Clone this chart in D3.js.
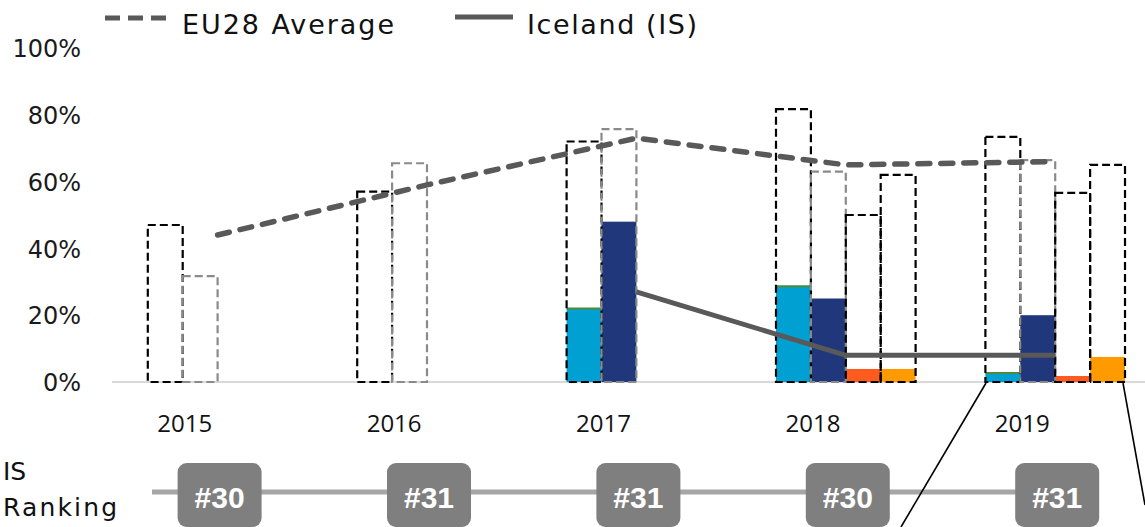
<!DOCTYPE html>
<html><head><meta charset="utf-8">
<script src="https://cdn.jsdelivr.net/npm/d3@7"></script>
<style>body{margin:0;background:#fff;} svg{display:block;}</style>
</head><body>
<svg id="chart" width="1145" height="527"></svg>
<script>
// ---- data ----
const years = ["2015","2016","2017","2018","2019"];
const cyanVals   = [null, null, 22.0, 28.7, 2.7];
const navyVals   = [null, null, 48.0, 25.0, 20.0];
const redVals    = [null, null, null, 3.9, 1.8];
const orangeVals = [null, null, null, 3.9, 7.5];
const bench1 = [47.0, 57.0, 72.0, 81.7, 73.4];   // black dashed
const bench2 = [31.7, 65.5, 75.7, 63.0, 66.4];   // grey dashed
const bench3 = [null, null, null, 50.0, 56.6];   // black dashed
const bench4 = [null, null, null, 62.0, 65.0];   // black dashed
const eu28    = [44.0, 59.0, 73.0, 65.0, 66.0];
const iceland = [null, null, 27.0, 8.0, 8.0];
const rankings = ["#30","#31","#31","#30","#31"];
const yTicks = [0,20,40,60,80,100];

// ---- layout ----
const svg = d3.select("#chart");
const x = d3.scaleBand().domain(years).range([78,1125]);
const slot = d3.scaleBand().domain(d3.range(6)).range([0, x.bandwidth()]);
const y = d3.scaleLinear().domain([0,100]).range([382,48]);
const fontMain = "'DejaVu Sans', sans-serif";

// y axis labels
const ya = svg.append("g").attr("transform","translate(81,0)")
  .call(d3.axisLeft(y).tickValues(yTicks).tickFormat(d=>d+"%").tickSize(0).tickPadding(0));
ya.select(".domain").remove();
ya.selectAll("text").attr("font-family",fontMain).attr("font-size",24)
  .attr("fill","#1a1a1a").attr("dy","0.36em");

// baseline
svg.append("line").attr("x1",112).attr("x2",1145).attr("y1",y(0)).attr("y2",y(0))
  .attr("stroke","#d9d9d9").attr("stroke-width",2);

// x axis labels
const xa = svg.append("g").attr("transform",`translate(0,${y(0)})`)
  .call(d3.axisBottom(x).tickSize(0).tickPadding(0));
xa.select(".domain").remove();
xa.selectAll("text").attr("font-family","'Open Sans', sans-serif").attr("font-size",24)
  .attr("fill","#111").attr("y",50).attr("dy",0).attr("dx",2);

// filled bars
const filled = [
  {vals:cyanVals, slot:2, color:"#00a0d2", top:"#4e8a3a"},
  {vals:navyVals, slot:3, color:"#21377b"},
  {vals:redVals, slot:4, color:"#ff5b1f"},
  {vals:orangeVals, slot:5, color:"#ff9a00"}
];
filled.forEach(s=>{
  const data = years.map((yr,i)=>({yr, v:s.vals[i]})).filter(d=>d.v!=null);
  svg.append("g").selectAll("rect").data(data).join("rect")
    .attr("x",d=>x(d.yr)+slot(s.slot)).attr("width",slot.bandwidth())
    .attr("y",d=>y(d.v)).attr("height",d=>y(0)-y(d.v)).attr("fill",s.color);
  if(s.top){
    svg.append("g").selectAll("line").data(data).join("line")
      .attr("x1",d=>x(d.yr)+slot(s.slot)).attr("x2",d=>x(d.yr)+slot(s.slot)+slot.bandwidth())
      .attr("y1",d=>y(d.v)).attr("y2",d=>y(d.v)).attr("stroke",s.top).attr("stroke-width",2);
  }
});

// dashed benchmark outlines
const outlines = [
  {vals:bench1, slot:2, color:"#000"},
  {vals:bench2, slot:3, color:"#8a8a8a"},
  {vals:bench3, slot:4, color:"#000"},
  {vals:bench4, slot:5, color:"#000"}
];
outlines.forEach(s=>{
  const data = years.map((yr,i)=>({yr, v:s.vals[i]})).filter(d=>d.v!=null);
  svg.append("g").selectAll("rect").data(data).join("rect")
    .attr("x",d=>x(d.yr)+slot(s.slot)).attr("width",slot.bandwidth())
    .attr("y",d=>y(d.v)).attr("height",d=>y(0)-y(d.v))
    .attr("fill","none").attr("stroke",s.color).attr("stroke-width",2.2)
    .attr("stroke-dasharray","8,4");
});

// lines
const lx = (yr)=> x(yr)+slot(4);
const lineGen = d3.line().defined(d=>d.v!=null).x(d=>lx(d.yr)).y(d=>y(d.v));
svg.append("path").datum(years.map((yr,i)=>({yr,v:iceland[i]})))
  .attr("d",lineGen).attr("fill","none").attr("stroke","#595959").attr("stroke-width",5);
svg.append("path").datum(years.map((yr,i)=>({yr,v:eu28[i]})))
  .attr("d",lineGen).attr("fill","none").attr("stroke","#595959").attr("stroke-width",5.5)
  .attr("stroke-dasharray","12,11").attr("stroke-linecap","round");

// legend
svg.append("line").attr("x1",105).attr("x2",166).attr("y1",18).attr("y2",18)
  .attr("stroke","#595959").attr("stroke-width",5).attr("stroke-dasharray","15,8");
svg.append("text").attr("x",182).attr("y",34).text("EU28 Average")
  .attr("font-family",fontMain).attr("font-size",27).attr("fill","#111")
  .attr("textLength",212).attr("lengthAdjust","spacing");
svg.append("line").attr("x1",455).attr("x2",513).attr("y1",17).attr("y2",17)
  .attr("stroke","#595959").attr("stroke-width",5);
svg.append("text").attr("x",527).attr("y",34).text("Iceland (IS)")
  .attr("font-family",fontMain).attr("font-size",27).attr("fill","#111")
  .attr("textLength",170).attr("lengthAdjust","spacing");

// ranking row
svg.append("text").attr("x",3).attr("y",480).text("IS")
  .attr("font-family",fontMain).attr("font-size",25).attr("fill","#111");
svg.append("text").attr("x",3).attr("y",516).text("Ranking")
  .attr("font-family",fontMain).attr("font-size",25).attr("fill","#111")
  .attr("textLength",114).attr("lengthAdjust","spacing");
const rx = (yr)=> x(yr)+slot(4)+2;
svg.append("line").attr("x1",152).attr("x2",rx(years[years.length-1])).attr("y1",492).attr("y2",492)
  .attr("stroke","#a6a6a6").attr("stroke-width",5);
const rk = svg.append("g").selectAll("g").data(years.map((yr,i)=>({yr,r:rankings[i]}))).join("g")
  .attr("transform",d=>`translate(${rx(d.yr)},0)`);
rk.append("rect").attr("x",-42).attr("width",84).attr("y",463).attr("height",64).attr("rx",9)
  .attr("fill","#7f7f7f");
rk.append("text").attr("x",0).attr("y",508).attr("text-anchor","middle").text(d=>d.r)
  .attr("font-family","'Liberation Sans', Arial, sans-serif").attr("font-weight","bold")
  .attr("font-size",30).attr("fill","#fff");

// callout lines (zoom indication)
svg.append("line").attr("x1",986).attr("y1",383).attr("x2",901).attr("y2",527).attr("stroke","#000").attr("stroke-width",1.6);
svg.append("line").attr("x1",1123).attr("y1",383).attr("x2",1145).attr("y2",505).attr("stroke","#000").attr("stroke-width",1.6);
</script>
</body></html>
